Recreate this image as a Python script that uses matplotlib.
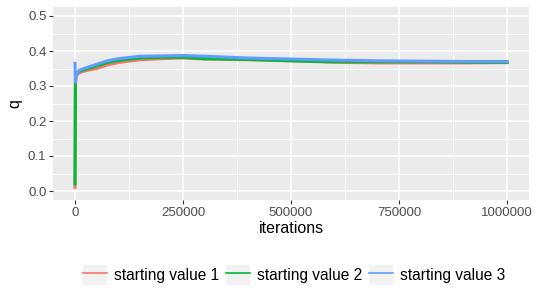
"""Trace plot of q for three MCMC chains with different starting values (ggplot look)."""
import matplotlib
matplotlib.use("Agg")
import matplotlib.pyplot as plt
from matplotlib.legend_handler import HandlerTuple
from matplotlib.lines import Line2D
from matplotlib.patches import Patch
from matplotlib.ticker import FixedLocator, FuncFormatter

plt.rcParams["font.family"] = ["Liberation Sans", "DejaVu Sans"]

# values
iterations = [0, 1000, 3000, 10000, 25000, 50000, 75000, 100000, 150000, 200000,
              250000, 300000, 400000, 500000, 600000, 700000, 800000, 900000, 1000000]
q_sv1 = [0.010, 0.310, 0.330, 0.338, 0.344, 0.350, 0.360, 0.367, 0.375, 0.378,
         0.380, 0.377, 0.375, 0.372, 0.368, 0.366, 0.366, 0.366, 0.367]
q_sv2 = [0.020, 0.320, 0.335, 0.342, 0.348, 0.357, 0.367, 0.373, 0.380, 0.382,
         0.382, 0.378, 0.376, 0.372, 0.369, 0.369, 0.369, 0.368, 0.368]
q_sv3 = [0.365, 0.310, 0.335, 0.345, 0.352, 0.362, 0.372, 0.378, 0.385, 0.386,
         0.387, 0.385, 0.380, 0.377, 0.374, 0.372, 0.371, 0.370, 0.370]
series_names = ["starting value 1", "starting value 2", "starting value 3"]
series_colors = ["#F8766D", "#00BA38", "#619CFF"]

x_ticks = [0, 250000, 500000, 750000, 1000000]
y_ticks = [0.0, 0.1, 0.2, 0.3, 0.4, 0.5]

dpi = 100
fig = plt.figure(figsize=(5.36, 3.0), dpi=dpi)
fig.patch.set_facecolor("white")
ax = fig.add_axes([53.4 / 536, 1 - 199.75 / 300, (528.6 - 53.4) / 536, (199.75 - 7.25) / 300])
ax.set_facecolor("#EBEBEB")

for vals, name, color in zip([q_sv1, q_sv2, q_sv3], series_names, series_colors):
    ax.plot(iterations, vals, color=color, linewidth=2.2, solid_joinstyle="round", zorder=3)

ax.set_xlim(-50000, 1050000)
ax.set_ylim(-0.025, 0.525)
ax.xaxis.set_major_locator(FixedLocator(x_ticks))
ax.xaxis.set_minor_locator(FixedLocator([125000, 375000, 625000, 875000]))
ax.yaxis.set_major_locator(FixedLocator(y_ticks))
ax.yaxis.set_minor_locator(FixedLocator([0.05, 0.15, 0.25, 0.35, 0.45]))
ax.xaxis.set_major_formatter(FuncFormatter(lambda v, _: f"{int(v)}"))
ax.yaxis.set_major_formatter(FuncFormatter(lambda v, _: f"{v:.1f}"))

ax.grid(which="major", color="white", linewidth=1.1, zorder=0)
ax.grid(which="minor", color="white", linewidth=0.55, zorder=0)
ax.set_axisbelow(True)
for s in ax.spines.values():
    s.set_visible(False)
ax.tick_params(which="major", length=3, width=0.8, color="#333333",
               labelcolor="#4D4D4D", labelsize=9.5, pad=2)
ax.tick_params(which="minor", length=0)

ax.set_xlabel("iterations", fontsize=11.5, color="black", labelpad=2)
ax.set_ylabel("q", fontsize=11.5, color="black", labelpad=4)

handles = [(Patch(facecolor="#F2F2F2", edgecolor="none"), Line2D([], [], color=c, linewidth=1.2))
           for c in series_colors]
fig.legend(handles, series_names, handler_map={tuple: HandlerTuple(ndivide=1, pad=0)},
           loc="center", bbox_to_anchor=(0.549, 1 - 275 / 300), ncol=3, frameon=False,
           fontsize=11.2, handlelength=1.55, handleheight=1.55, handletextpad=0.45,
           columnspacing=0.45, borderpad=0)

fig.savefig("out.png", dpi=dpi, facecolor=fig.get_facecolor())
